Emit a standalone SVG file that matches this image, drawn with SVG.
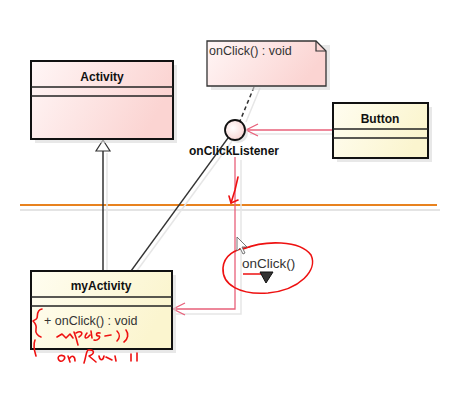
<svg xmlns="http://www.w3.org/2000/svg" width="453" height="401" viewBox="0 0 453 401">
<defs>
<linearGradient id="pink" x1="0" y1="0" x2="1" y2="0.3">
<stop offset="0" stop-color="#fff6f6"/><stop offset="1" stop-color="#fbd4d2"/>
</linearGradient>
<linearGradient id="yellow" x1="0" y1="0" x2="1" y2="0.3">
<stop offset="0" stop-color="#fffdf0"/><stop offset="1" stop-color="#fbf5cf"/>
</linearGradient>
<radialGradient id="circ" cx="0.4" cy="0.4" r="0.7">
<stop offset="0" stop-color="#ffffff"/><stop offset="1" stop-color="#f8d2d0"/>
</radialGradient>
<marker id="open" markerWidth="16" markerHeight="16" refX="13" refY="7" orient="auto" markerUnits="userSpaceOnUse" overflow="visible">
<path d="M1,1 L13,7 L1,13" fill="none" stroke="#e8607a" stroke-width="1.3"/>
</marker>
</defs>
<style>
.box{stroke:#111;stroke-width:2}
.shadow{fill:#d8d8d8;opacity:0.6}
.div{stroke:#222;stroke-width:1.5}
.title{font-family:"Liberation Sans",Arial,sans-serif;font-weight:bold;font-size:12px;fill:#111;text-anchor:middle}
.reg{font-family:"Liberation Sans",Arial,sans-serif;font-size:12.5px;fill:#333}
.pinkline{fill:none;stroke:#e8607a;stroke-width:1.3}
.red{fill:none;stroke:#ee1111;stroke-width:1.6;stroke-linecap:round;stroke-linejoin:round}
</style>
<rect width="453" height="401" fill="#ffffff"/>

<!-- package divider line -->
<line x1="20" y1="210" x2="440" y2="210" stroke="#e4e4e4" stroke-width="2"/>
<line x1="20" y1="205" x2="437" y2="205" stroke="#e8821e" stroke-width="2"/>

<g id="connectors">
<!-- generalization -->
<line x1="103" y1="151" x2="103" y2="271" stroke="#333" stroke-width="1.5"/>
<line x1="107" y1="153" x2="107" y2="271" stroke="#e6e6e6" stroke-width="1.5"/>
<path d="M103,140 L110,151 L96,151 Z" fill="#ffffff" stroke="#333" stroke-width="1.2"/>
<!-- realization line myActivity to interface -->
<line x1="136" y1="272" x2="232" y2="141" stroke="#e6e6e6" stroke-width="1.5"/>
<line x1="131" y1="271" x2="228" y2="138" stroke="#333" stroke-width="1.3"/>
<!-- note anchor -->
<line x1="254" y1="87" x2="240" y2="121" stroke="#333" stroke-width="1.5" stroke-dasharray="4,3"/>
<line x1="260" y1="88" x2="246" y2="122" stroke="#e6e6e6" stroke-width="1.5"/>
<!-- Button -> interface -->
<line x1="333" y1="134" x2="250" y2="134" stroke="#e6e6e6" stroke-width="1.5"/>
<line x1="333" y1="130" x2="246" y2="130" class="pinkline" marker-end="url(#open)"/>
<!-- interface -> myActivity -->
<path d="M241,160 L241,314 L176,314" fill="none" stroke="#e6e6e6" stroke-width="1.5"/>
<path d="M235,157 L235,309 L173,309" class="pinkline" marker-end="url(#open)"/>
</g>

<g id="activity">
<rect x="35" y="65" width="142" height="78" class="shadow"/>
<rect x="31" y="61" width="142" height="78" fill="url(#pink)" class="box"/>
<line x1="31" y1="87" x2="173" y2="87" class="div"/>
<line x1="31" y1="96" x2="173" y2="96" class="div"/>
<text x="102" y="81" class="title">Activity</text>
</g>

<g id="note">
<path d="M211,45 L330,45 L330,90 L211,90 Z" class="shadow"/>
<path d="M207,41 L316,41 L326,51 L326,86 L207,86 Z" fill="url(#pink)" stroke="#333" stroke-width="1.3"/>
<path d="M316,41 L316,51 L326,51" fill="none" stroke="#333" stroke-width="1.2"/>
<text x="209" y="55" class="reg">onClick() : void</text>
</g>

<g id="onClickListener">
<circle cx="238" cy="133" r="10" fill="#dddddd" opacity="0.7"/>
<circle cx="235" cy="130" r="10" fill="url(#circ)" stroke="#111" stroke-width="1.8"/>
<text x="234" y="155" class="title">onClickListener</text>
</g>

<g id="button">
<rect x="337" y="107" width="95" height="55" class="shadow"/>
<rect x="333" y="103" width="95" height="55" fill="url(#yellow)" class="box"/>
<line x1="333" y1="129" x2="428" y2="129" class="div"/>
<line x1="333" y1="138" x2="428" y2="138" class="div"/>
<text x="380" y="123" class="title">Button</text>
</g>

<g id="myActivity">
<rect x="35" y="275" width="141" height="78" class="shadow"/>
<rect x="31" y="271" width="141" height="78" fill="url(#yellow)" class="box"/>
<line x1="31" y1="297" x2="172" y2="297" class="div"/>
<line x1="31" y1="306" x2="172" y2="306" class="div"/>
<text x="101" y="290" class="title">myActivity</text>
<text x="44" y="325" class="reg">+ onClick() : void</text>
</g>

<g id="message">
<text x="242" y="268" class="reg" style="font-size:13.5px">onClick()</text>
<line x1="243" y1="274" x2="262" y2="274" stroke="#ee1111" stroke-width="1.5"/>
<path d="M260,272 L273,272 L266,283 Z" fill="#333" stroke="#111" stroke-width="1"/>
</g>

<g id="annotations">
<!-- hand drawn arrow -->
<path d="M238,177 L235,190 L231,203" class="red"/>
<path d="M229,196 L231,203 L238,200" class="red"/>
<!-- ellipse around onClick() -->
<path d="M243,249 C265,240 300,240 311,255 C318,270 300,290 268,293 C240,295 222,285 223,268 C224,255 235,249 250,247" class="red"/>
<!-- brace -->
<path d="M42,309 C36,310 38,316 37,318 C36,320 34,320 33,321 C35,323 37,325 36,329 C35,333 38,336 41,337" class="red"/>
<path d="M35,340 C33,345 34,350 36,356" class="red"/>
<!-- scribble onPause() -->
<path d="M57,337 L62,334 L66,338 L70,334 L73,338 M74,332 C76,337 77,341 78,345 M76,333 C82,330 84,334 79,337 M87,333 C83,338 86,340 90,335 M91,331 L92,338 M100,333 C95,332 96,336 99,336 C101,337 98,341 94,340 M105,336 L111,335 M117,331 C120,334 120,338 117,341 M126,330 C129,334 128,339 124,342" class="red" stroke-width="1.4"/>
<!-- scribble onResume() -->
<path d="M60,361 C56,358 59,354 64,356 C66,358 63,362 60,361 M68,356 L70,362 M70,358 C72,355 75,356 75,361 M84,363 C86,357 86,352 88,350 C95,349 95,354 89,356 L96,362 M99,356 C100,361 103,361 104,356 M106,357 L112,360 M115,356 L116,361 M131,354 L131,361 M137,353 L137,361" class="red" stroke-width="1.4"/>
</g>

<!-- mouse cursor -->
<path d="M237,237 L237,251 L240,248 L243,254 L245,253 L242,247 L247,247 Z" fill="#ffffff" stroke="#666" stroke-width="0.9"/>
</svg>
